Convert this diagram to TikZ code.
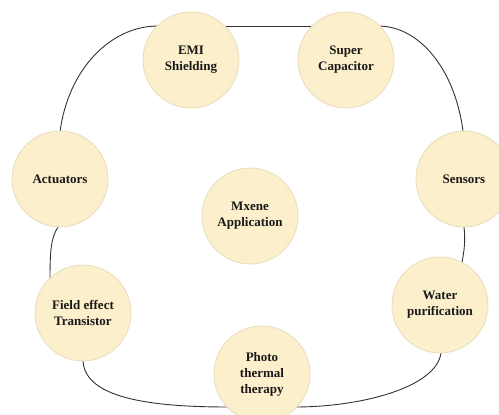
\documentclass[tikz,border=0pt]{standalone}
\usepackage{fontspec}
\setmainfont{Liberation Serif}
\definecolor{cfill}{HTML}{FCEFCB}
\definecolor{cdraw}{HTML}{E9DCBC}
\definecolor{cline}{HTML}{333333}
\begin{document}
\begin{tikzpicture}[x=1pt,y=-1pt,
  bubble/.style={circle,fill=cfill,draw=cdraw,line width=0.8pt,minimum size=96pt,inner sep=0pt,align=center,font=\fontsize{13}{16}\selectfont\bfseries,text=black!90},
  link/.style={draw=cline,line width=0.9pt}]
\useasboundingbox (0,0) rectangle (499,415);
% connectors first (under circles)
\coordinate (a1) at (158,26);
\coordinate (a2) at (60,132);
\coordinate (b1) at (225,26);
\coordinate (b2) at (312,26);
\coordinate (c1) at (378,26);
\coordinate (c2) at (463,131);
\coordinate (d1) at (58,227);
\coordinate (d2) at (50,280);
\coordinate (e1) at (464,227);
\coordinate (e2) at (462,263);
\coordinate (f1) at (83,361);
\coordinate (f2) at (228,407);
\coordinate (g1) at (441,353);
\coordinate (g2) at (295,407);
\draw[link] (a1) .. controls (110,26) and (68,70) .. (a2);
\draw[link] (b1) -- (b2);
\draw[link] (c1) .. controls (420,26) and (455,70) .. (c2);
\draw[link] (d1) .. controls (51,238) and (50,250) .. (d2);
\draw[link] (e1) .. controls (466,245) and (463,255) .. (e2);
\draw[link] (f1) .. controls (85,398) and (150,407) .. (f2);
\draw[link] (g1) .. controls (436,388) and (360,407) .. (g2);
% nodes
\node[bubble] (emi) at (191,60) {EMI\\Shielding};
\node[bubble] (sup) at (346,60) {Super\\Capacitor};
\node[bubble] (act) at (60,179) {Actuators};
\node[bubble] (sen) at (464,179) {Sensors};
\node[bubble] (mx) at (250,216) {Mxene\\Application};
\node[bubble] (fet) at (83,313) {Field effect\\Transistor};
\node[bubble] (wat) at (440,305) {Water\\purification};
\node[bubble] (pho) at (262,374) {Photo\\thermal\\therapy};
\end{tikzpicture}
\end{document}
